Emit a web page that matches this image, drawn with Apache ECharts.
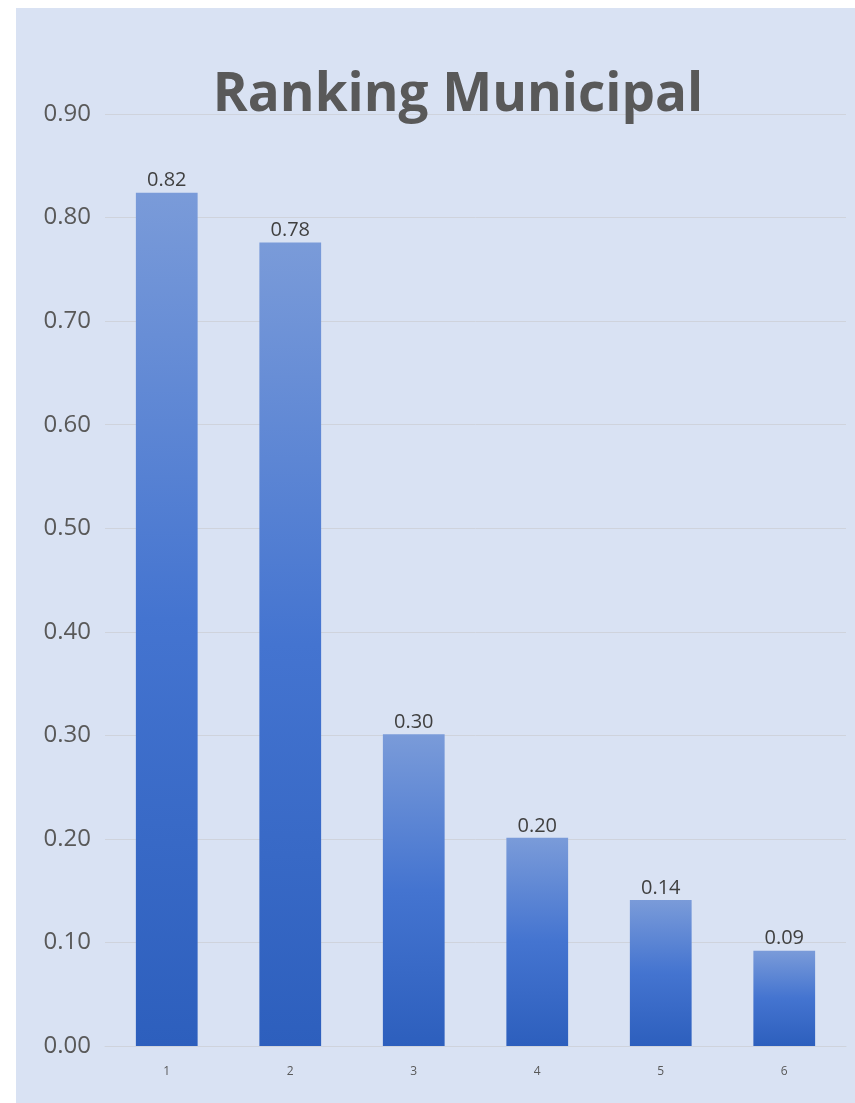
<!DOCTYPE html>
<html>
<head>
<meta charset="utf-8">
<script src="https://cdn.jsdelivr.net/npm/echarts@6/dist/echarts.min.js"></script>
<style>
html,body{margin:0;padding:0;background:#ffffff;width:855px;height:1103px;overflow:hidden;}
#chart{position:absolute;left:16px;top:8px;width:839px;height:1095px;background:#d9e2f3;}
</style>
</head>
<body>
<div id="chart"></div>
<script>
const categories = ['1','2','3','4','5','6'];
const values = [0.824, 0.776, 0.301, 0.201, 0.141, 0.092];
const yTicks = { min: 0, max: 0.9, interval: 0.1 };
const titleText = 'Ranking Municipal';

const chart = echarts.init(document.getElementById('chart'), null, {renderer:'canvas'});
chart.setOption({
  backgroundColor: '#d9e2f3',
  animation: false,
  title: {
    text: titleText,
    left: 437, top: 56, textAlign: 'center',
    textStyle: { fontFamily: '"Open Sans", sans-serif', fontWeight: 'bold', fontSize: 53, color: '#595959' }
  },
  grid: { left: 89, right: 9, top: 106, bottom: 57, containLabel: false },
  xAxis: {
    type: 'category',
    data: categories,
    axisLine: { show: true, lineStyle: { color: '#cfd3dc', width: 1 } },
    axisTick: { show: false },
    axisLabel: { color: '#595959', fontSize: 12, margin: 20, fontFamily: '"Open Sans", sans-serif' }
  },
  yAxis: {
    type: 'value',
    min: yTicks.min, max: yTicks.max, interval: yTicks.interval,
    axisLine: { show: false },
    axisTick: { show: false },
    splitLine: { lineStyle: { color: '#cfd3dc', width: 1 } },
    axisLabel: { color: '#595959', fontSize: 24, margin: 14, fontFamily: '"Open Sans", sans-serif',
      formatter: v => v.toFixed(2) }
  },
  series: [{
    type: 'bar',
    data: values,
    barWidth: '50%',
    itemStyle: {
      color: new echarts.graphic.LinearGradient(0,0,0,1,[
        {offset:0, color:'#7a9bd9'},
        {offset:0.5, color:'#4474d0'},
        {offset:1, color:'#2d5fbd'}
      ])
    },
    label: {
      show: true, position: 'top', distance: 2,
      color: '#404040', fontSize: 20, fontFamily: '"Open Sans", sans-serif',
      formatter: p => p.value.toFixed(2)
    }
  }]
});
</script>
</body>
</html>
